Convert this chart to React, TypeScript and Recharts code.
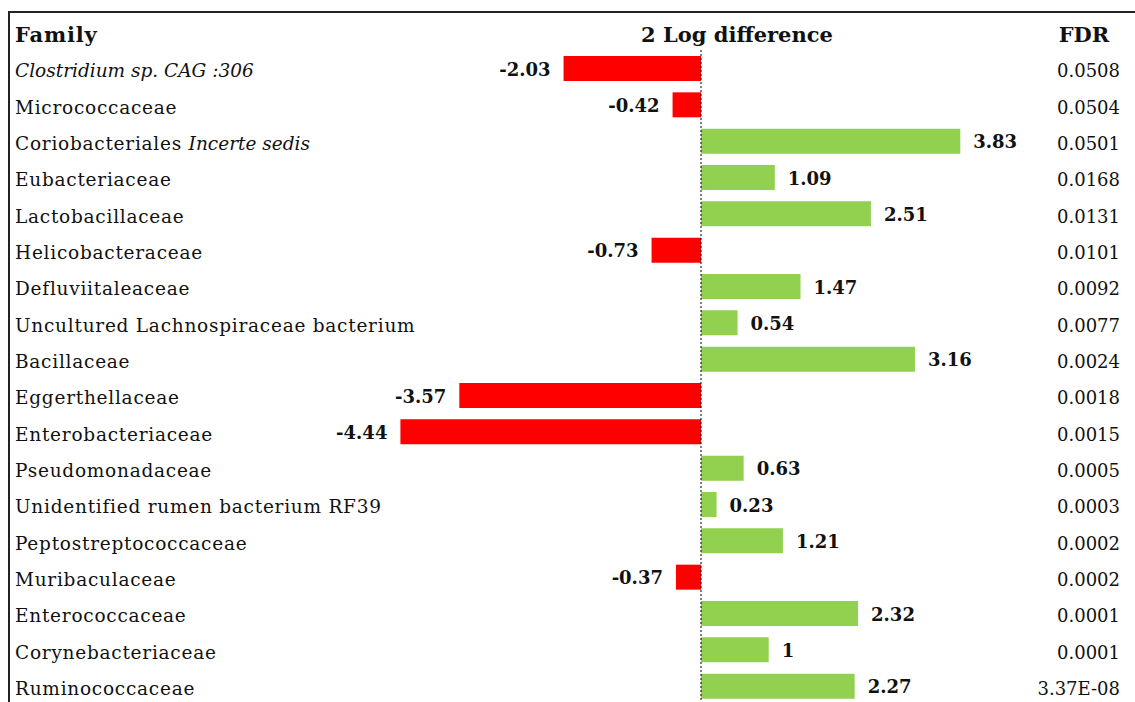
import { BarChart, Bar, XAxis, YAxis, Cell, LabelList, ReferenceLine } from "recharts"

const families = [
  "Clostridium sp. CAG :306",
  "Micrococcaceae",
  "Coriobacteriales Incerte sedis",
  "Eubacteriaceae",
  "Lactobacillaceae",
  "Helicobacteraceae",
  "Defluviitaleaceae",
  "Uncultured Lachnospiraceae bacterium",
  "Bacillaceae",
  "Eggerthellaceae",
  "Enterobacteriaceae",
  "Pseudomonadaceae",
  "Unidentified rumen bacterium RF39",
  "Peptostreptococcaceae",
  "Muribaculaceae",
  "Enterococcaceae",
  "Corynebacteriaceae",
  "Ruminococcaceae",
]

// part of each name that is set in italics
const italicParts = [
  "Clostridium sp. CAG :306", "", "Incerte sedis", "", "", "", "", "", "",
  "", "", "", "", "", "", "", "", "",
]

const logDiff = [
  -2.03, -0.42, 3.83, 1.09, 2.51, -0.73, 1.47, 0.54, 3.16, -3.57, -4.44, 0.63,
  0.23, 1.21, -0.37, 2.32, 1, 2.27,
]

const fdr = [
  "0.0508", "0.0504", "0.0501", "0.0168", "0.0131", "0.0101", "0.0092",
  "0.0077", "0.0024", "0.0018", "0.0015", "0.0005", "0.0003", "0.0002",
  "0.0002", "0.0001", "0.0001", "3.37E-08",
]

const FONT = "'DejaVu Serif', serif"
const RED = "#ff0000"
const GREEN = "#92d050"

const data = families.map((family, i) => ({
  family,
  italic: italicParts[i],
  value: logDiff[i],
  fdr: fdr[i],
}))

function RowTick(props: any) {
  const { y, payload } = props
  const row = data[payload.index]
  const name: string = row.family
  const it: string = row.italic
  const plain = it ? name.slice(0, name.length - it.length) : name
  return (
    <g>
      <text x={15} y={y} dy={9} fontFamily={FONT} fontSize={18.5} fill="#111">
        {plain && <tspan letterSpacing={0.75}>{plain}</tspan>}
        {it && <tspan fontStyle="italic" letterSpacing={0}>{it}</tspan>}
      </text>
      <text x={1120} y={y} dy={9} textAnchor="end" fontFamily={FONT} fontSize={18} fill="#111">
        {row.fdr}
      </text>
    </g>
  )
}

function ValueLabel(props: any) {
  const { x, y, width, height, value } = props
  const neg = value < 0
  const end = x + width
  const tx = neg ? Math.min(x, end) - 13 : Math.max(x, end) + 13
  return (
    <text
      x={tx}
      y={y + height / 2}
      dy={7}
      textAnchor={neg ? "end" : "start"}
      fontFamily={FONT}
      fontSize={18}
      fontWeight="bold"
      fill="#111"
    >
      {value}
    </text>
  )
}

export default function App() {
  const head = { position: "absolute" as const, top: 22, fontFamily: FONT, fontSize: 21, fontWeight: "bold" as const, color: "#111" }
  return (
    <div style={{ position: "relative", width: 1135, height: 702, overflow: "hidden", background: "#fff" }}>
      <style>{"body{margin:0}"}</style>
      <div style={{ position: "absolute", left: 8, top: 11, right: 0, bottom: 0, borderTop: "2px solid #222", borderLeft: "2px solid #222" }} />
      <div style={{ ...head, left: 15, letterSpacing: 0.8 }}>Family</div>
      <div style={{ ...head, left: 637, width: 200, textAlign: "center" }}>2 Log difference</div>
      <div style={{ ...head, left: 1044, width: 80, textAlign: "center" }}>FDR</div>
      <BarChart
        width={1135}
        height={706}
        data={data}
        layout="vertical"
        margin={{ top: 50, right: 95.5, left: 0, bottom: 2 }}
        style={{ position: "absolute", left: 0, top: 0 }}
      >
        <XAxis type="number" domain={[-5, 5]} hide />
        <YAxis
          type="category"
          dataKey="family"
          width={362.5}
          axisLine={false}
          tickLine={false}
          tick={<RowTick />}
          interval={0}
        />
        <ReferenceLine x={0} stroke="#000" strokeDasharray="2 2" strokeWidth={1} />
        <Bar dataKey="value" barSize={25} isAnimationActive={false}>
          {data.map((d, i) => (
            <Cell key={i} fill={d.value < 0 ? RED : GREEN} />
          ))}
          <LabelList dataKey="value" content={<ValueLabel />} />
        </Bar>
      </BarChart>
    </div>
  )
}
